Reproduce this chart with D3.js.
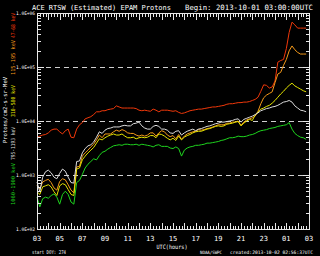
<!DOCTYPE html>
<html>
<head>
<meta charset="utf-8">
<script src="https://cdn.jsdelivr.net/npm/d3@7/dist/d3.min.js"></script>
<style>
body { margin:0; background:#000; }
svg { display:block; font-family:"DejaVu Sans Mono", monospace; }
</style>
</head>
<body>
<div id="chart"></div>
<script>
var width = 320, height = 256,
    plotLeft = 37, plotRight = 309, plotTop = 13, plotBottom = 229;

// time axis: hours after 2013-10-01 03:00 UTC, one sample every 15 min
var stepHours = 0.25;
var hourLabels = ["03","05","07","09","11","13","15","17","19","21","23","01","03"];
var decades = [1e2, 1e3, 1e4, 1e5, 1e6];
var decadeLabels = ["1.0E+02","1.0E+03","1.0E+04","1.0E+05","1.0E+06"];

var channels = ["47-68 keV","115-195 keV","310-580 keV","795-1193 keV","1060-1900 keV"];
var colors   = ["#f0380a","#f59a1a","#e4e400","#dcdcdc","#1ed41e"];

// log10 of proton flux (p/cm2-s-sr-MeV)
var log47_68 = [3.70,3.72,3.74,3.75,3.78,3.83,3.85,3.85,3.80,3.76,3.82,3.85,3.70,3.69,3.85,3.93,
  3.97,4.04,4.06,4.08,4.12,4.17,4.17,4.19,4.19,4.21,4.22,4.23,4.28,4.26,4.24,4.24,
  4.24,4.24,4.24,4.23,4.20,4.19,4.20,4.19,4.18,4.22,4.20,4.17,4.20,4.20,4.20,4.19,
  4.18,4.19,4.16,4.14,4.15,4.17,4.19,4.20,4.21,4.22,4.22,4.23,4.24,4.25,4.26,4.26,
  4.27,4.28,4.29,4.31,4.32,4.32,4.33,4.34,4.34,4.35,4.35,4.36,4.38,4.40,4.44,4.55,
  4.67,4.66,4.61,4.63,4.74,5.09,5.12,5.14,5.34,5.64,5.83,5.78,5.72,5.72,5.72,5.72];

var log115_195 = [2.81,2.74,2.87,2.90,2.92,2.86,2.76,2.72,2.88,2.93,2.91,2.82,2.72,2.67,3.15,3.16,
  3.35,3.41,3.46,3.52,3.57,3.65,3.74,3.69,3.76,3.76,3.76,3.80,3.83,3.81,3.84,3.82,
  3.78,3.77,3.77,3.74,3.72,3.74,3.72,3.74,3.78,3.78,3.72,3.78,3.82,3.80,3.74,3.71,
  3.73,3.67,3.75,3.66,3.72,3.76,3.78,3.80,3.81,3.84,3.83,3.84,3.86,3.87,3.89,3.91,
  3.93,3.93,3.93,3.96,3.96,3.98,3.98,4.00,3.92,3.98,4.02,4.04,4.06,4.09,4.18,4.32,
  4.43,4.48,4.51,4.54,4.71,4.87,4.90,5.03,5.14,5.30,5.39,5.32,5.27,5.24,5.24,5.24];

var log310_580 = [2.69,2.64,2.78,2.80,2.82,2.78,2.69,2.62,2.80,2.84,2.82,2.73,2.64,2.62,3.11,3.13,
  3.28,3.35,3.41,3.46,3.51,3.59,3.67,3.65,3.69,3.72,3.74,3.76,3.74,3.74,3.76,3.72,
  3.69,3.69,3.70,3.67,3.69,3.70,3.69,3.70,3.73,3.73,3.69,3.76,3.75,3.72,3.68,3.65,
  3.68,3.64,3.72,3.65,3.70,3.73,3.75,3.78,3.80,3.81,3.81,3.83,3.85,3.86,3.88,3.90,
  3.91,3.90,3.91,3.94,3.95,3.96,3.98,3.99,3.91,3.96,4.00,4.03,4.01,4.11,4.17,4.22,
  4.24,4.27,4.29,4.33,4.38,4.44,4.50,4.55,4.61,4.66,4.70,4.65,4.62,4.59,4.56,4.54];

var log795_1193 = [2.87,2.69,2.96,3.06,3.09,3.04,2.96,2.93,3.03,3.11,3.07,2.96,2.86,2.85,3.25,3.26,
  3.41,3.49,3.54,3.56,3.61,3.70,3.80,3.77,3.83,3.86,3.87,3.89,3.89,3.89,3.91,3.92,
  3.91,3.91,3.95,3.96,3.98,3.91,3.87,3.85,3.85,3.90,3.92,3.90,3.85,3.85,3.83,3.78,
  3.77,3.81,3.82,3.74,3.78,3.81,3.83,3.85,3.82,3.85,3.86,3.88,3.90,3.91,3.93,3.95,
  3.96,3.98,3.98,3.99,4.00,4.01,4.03,4.04,3.98,4.03,4.05,4.07,4.09,4.12,4.15,4.19,
  4.21,4.23,4.24,4.26,4.27,4.29,4.32,4.35,4.36,4.38,4.35,4.28,4.24,4.20,4.19,4.17];

var log1060_1900 = [2.59,2.41,2.56,2.59,2.57,2.62,2.65,2.59,2.46,2.64,2.70,2.64,2.50,2.46,2.86,2.90,
  3.01,3.13,3.20,3.25,3.30,3.28,3.36,3.42,3.44,3.48,3.51,3.54,3.55,3.56,3.55,3.57,
  3.57,3.56,3.56,3.57,3.55,3.57,3.56,3.55,3.54,3.52,3.55,3.56,3.53,3.53,3.53,3.50,
  3.49,3.52,3.49,3.35,3.46,3.50,3.52,3.53,3.55,3.55,3.56,3.57,3.59,3.59,3.60,3.61,
  3.62,3.64,3.65,3.67,3.69,3.69,3.70,3.72,3.71,3.71,3.72,3.74,3.75,3.77,3.80,3.82,
  3.83,3.84,3.86,3.87,3.88,3.90,3.91,3.92,3.93,3.97,3.85,3.77,3.73,3.70,3.69,3.66];

var series = [log47_68, log115_195, log310_580, log795_1193, log1060_1900];

var svg = d3.select("#chart").append("svg")
    .attr("width", width)
    .attr("height", height)
    .style("background", "#000");

var x = d3.scaleLinear().domain([0, 24]).range([plotLeft, plotRight]);
var y = d3.scaleLog().domain([1e2, 1e6]).range([plotBottom, plotTop]);

// dashed decade lines
svg.selectAll(".grid")
    .data([1e3, 1e4, 1e5])
    .enter().append("line")
    .attr("x1", plotLeft).attr("x2", plotRight)
    .attr("y1", function(d){ return Math.round(y(d)) + 0.5; })
    .attr("y2", function(d){ return Math.round(y(d)) + 0.5; })
    .attr("stroke", "#cfcfcf")
    .attr("stroke-dasharray", "5,4");

// data lines
var line = d3.line()
    .x(function(d, i){ return x(i * stepHours); })
    .y(function(d){ return y(Math.pow(10, d)); });

svg.selectAll(".series")
    .data(series)
    .enter().append("path")
    .attr("d", line)
    .attr("fill", "none")
    .attr("stroke", function(d, i){ return colors[i]; })
    .attr("stroke-width", 1);

// frame
svg.append("rect")
    .attr("x", plotLeft + 0.5).attr("y", plotTop + 0.5)
    .attr("width", plotRight - plotLeft).attr("height", plotBottom - plotTop)
    .attr("fill", "none")
    .attr("stroke", "#e8e8e8");

// x ticks top & bottom: 15 min minor, hourly major
var xt = d3.range(0, 24.01, 0.25);
var tickG = svg.append("g").attr("stroke", "#e8e8e8").attr("shape-rendering", "crispEdges");
xt.forEach(function(h){
  var len = (h % 1 === 0) ? 6 : 3;
  var px = Math.round(x(h)) + 0.5;
  tickG.append("line").attr("x1", px).attr("x2", px).attr("y1", plotBottom).attr("y2", plotBottom - len);
  tickG.append("line").attr("x1", px).attr("x2", px).attr("y1", plotTop + 1).attr("y2", plotTop + 1 + len);
});

// y ticks left & right: log minor ticks
var yt = [];
decades.forEach(function(d){
  for (var m = 1; m < 10; m++) { if (d * m <= 1e6) yt.push(d * m); }
});
yt.forEach(function(v){
  var len = (Math.log10(v) % 1 === 0) ? 6 : 3;
  var py = Math.round(y(v)) + 0.5;
  tickG.append("line").attr("x1", plotLeft + 1).attr("x2", plotLeft + 1 + len).attr("y1", py).attr("y2", py);
  tickG.append("line").attr("x1", plotRight).attr("x2", plotRight - len).attr("y1", py).attr("y2", py);
});

// y decade labels
svg.selectAll(".ylab")
    .data(decades)
    .enter().append("text")
    .attr("x", 35)
    .attr("y", function(d){ return y(d) + 2; })
    .attr("text-anchor", "end")
    .attr("fill", "#fff")
    .style("font-size", "4.8px")
    .attr("textLength", 19)
    .attr("lengthAdjust", "spacingAndGlyphs")
    .text(function(d, i){ return decadeLabels[i]; });

// x hour labels
svg.selectAll(".xlab")
    .data(hourLabels)
    .enter().append("text")
    .attr("x", function(d, i){ return x(i * 2); })
    .attr("y", 241)
    .attr("text-anchor", "middle")
    .attr("fill", "#fff")
    .style("font-size", "7px")
    .text(function(d){ return d; });

svg.append("text")
    .attr("x", 172).attr("y", 248.5)
    .attr("text-anchor", "middle")
    .attr("fill", "#fff")
    .style("font-size", "6px")
    .attr("textLength", 31).attr("lengthAdjust", "spacingAndGlyphs")
    .text("UTC(hours)");

// title
svg.append("text")
    .attr("x", 32).attr("y", 9.5)
    .attr("fill", "#fff")
    .style("font-size", "7px")
    .attr("textLength", 139).attr("lengthAdjust", "spacingAndGlyphs")
    .text("ACE RTSW (Estimated) EPAM Protons");
svg.append("text")
    .attr("x", 313).attr("y", 9.5)
    .attr("text-anchor", "end")
    .attr("fill", "#fff")
    .style("font-size", "7.3px")
    .attr("textLength", 128).attr("lengthAdjust", "spacingAndGlyphs")
    .text("Begin: 2013-10-01 03:00:00UTC");

// footer
svg.append("text")
    .attr("x", 32).attr("y", 254)
    .attr("fill", "#fff").style("font-size", "5px")
    .attr("textLength", 34).attr("lengthAdjust", "spacingAndGlyphs")
    .text("start DOY: 274");
svg.append("text")
    .attr("x", 222).attr("y", 254)
    .attr("text-anchor", "end")
    .attr("fill", "#fff").style("font-size", "4.5px")
    .attr("textLength", 22).attr("lengthAdjust", "spacingAndGlyphs")
    .text("NOAA/SWPC");
svg.append("text")
    .attr("x", 313).attr("y", 254)
    .attr("text-anchor", "end")
    .attr("fill", "#fff").style("font-size", "4.6px")
    .attr("textLength", 83).attr("lengthAdjust", "spacingAndGlyphs")
    .text("created:2013-10-02 02:56:37UTC");

// rotated y titles
svg.append("text")
    .attr("transform", "translate(7,110) rotate(-90)")
    .attr("text-anchor", "middle")
    .attr("fill", "#fff").style("font-size", "5.5px")
    .attr("textLength", 66).attr("lengthAdjust", "spacingAndGlyphs")
    .text("Protons/cm2-s-sr-MeV");

var chanPos = [[25.5, 25], [57.5, 35], [101, 32], [143.5, 33], [184, 42]];
channels.forEach(function(c, i){
  svg.append("text")
    .attr("transform", "translate(15," + chanPos[i][0] + ") rotate(-90)")
    .attr("text-anchor", "middle")
    .attr("fill", colors[i]).style("font-size", "5.5px")
    .attr("textLength", chanPos[i][1]).attr("lengthAdjust", "spacingAndGlyphs")
    .text(c);
});
</script>
</body>
</html>
